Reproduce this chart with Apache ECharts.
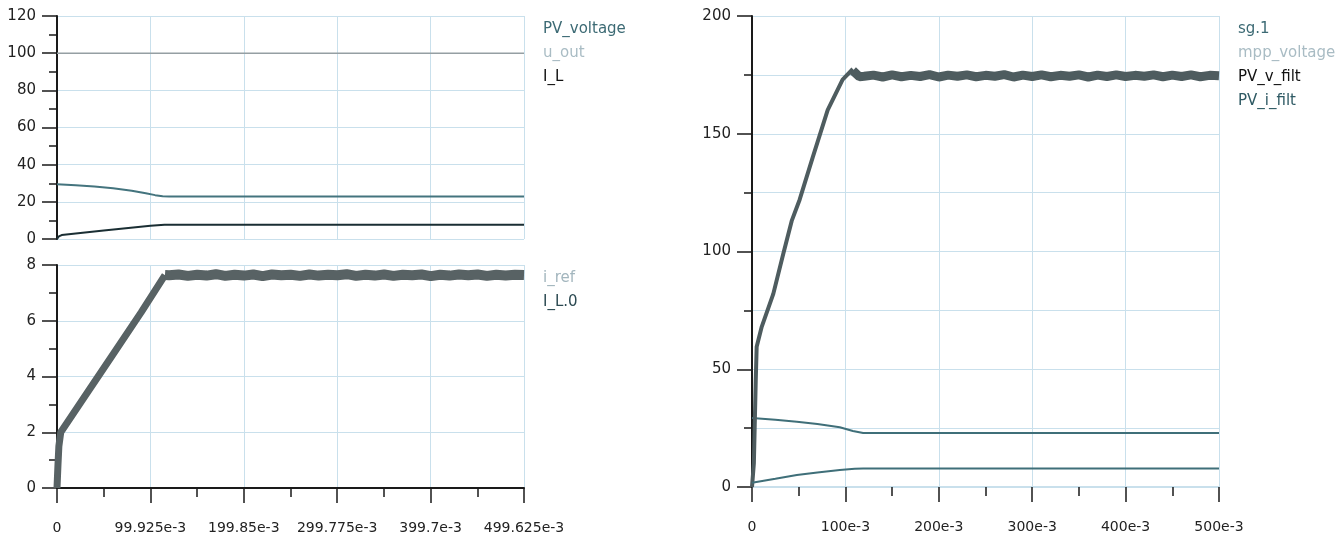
<!DOCTYPE html>
<html>
<head>
<meta charset="utf-8">
<script src="https://cdn.jsdelivr.net/npm/echarts@6/dist/echarts.min.js"></script>
<style>
  html, body { margin: 0; padding: 0; background: #fff; }
  #chart { width: 1338px; height: 540px; }
</style>
</head>
<body>
<div id="chart"></div>
<script>
// time axis (seconds)
const T_END_L = 0.499625
const T_END_R = 0.5
const tPlat = [0.12,0.13,0.14,0.15,0.16,0.17,0.18,0.19,0.2,0.21,0.22,0.23,0.24,0.25,0.26,0.27,0.28,0.29,0.3,
  0.31,0.32,0.33,0.34,0.35,0.36,0.37,0.38,0.39,0.4,0.41,0.42,0.43,0.44,0.45,0.46,0.47,0.48,0.49]

// left top: PV_voltage, u_out, I_L
const tPV = [0, 0.02, 0.04, 0.06, 0.08, 0.095, 0.105, 0.113, 0.12, T_END_L]
const vPV = [29.5, 28.9, 28.2, 27.3, 26.0, 24.6, 23.6, 23.0, 22.9, 22.9]
const tUout = [0, T_END_L]
const vUout = [100, 100]
const tIL = [0, 0.002, 0.005, 0.05, 0.1, 0.115, T_END_L]
const vIL = [0, 1.4, 2.1, 4.6, 7.1, 7.7, 7.7]

// left bottom: I_L.0 (ramp + ripple plateau)
const tIL0Ramp = [0, 0.001, 0.002, 0.004, 0.03, 0.06, 0.09, 0.1155]
const vIL0Ramp = [0, 0.8, 1.5, 2.0, 3.3, 4.8, 6.3, 7.64]
const vIL0Plat = [7.63,7.66,7.61,7.65,7.62,7.67,7.61,7.65,7.62,7.66,7.60,7.66,7.63,7.65,7.61,7.66,7.62,7.65,7.63,
  7.67,7.61,7.65,7.62,7.66,7.61,7.65,7.63,7.66,7.60,7.65,7.62,7.66,7.63,7.66,7.61,7.65,7.62,7.65]

// right: PV_v_filt (big curve), sg.1, PV_i_filt
const tBigRamp = [0, 0.002, 0.004, 0.005, 0.0104, 0.0228, 0.0335, 0.0425, 0.051, 0.065, 0.081, 0.097, 0.108]
const vBigRamp = [0, 10, 45, 59.6, 68, 82, 99, 113, 122, 140, 160, 173, 177.5]
const vBigPlat = [174.4,174.9,174.1,175.0,174.2,174.8,174.3,175.1,174.1,174.9,174.4,175.0,174.2,174.8,174.4,175.1,174.1,174.9,174.3,
  175.0,174.2,174.8,174.4,175.0,174.1,174.9,174.3,175.0,174.3,174.8,174.4,175.0,174.2,174.9,174.3,175.0,174.2,174.8]
const tSg = [0, 0.025, 0.048, 0.07, 0.094, 0.108, 0.119, T_END_R]
const vSg = [29.3, 28.6, 27.7, 26.8, 25.4, 23.8, 22.9, 22.9]
const tPi = [0, 0.025, 0.048, 0.07, 0.094, 0.11, 0.119, T_END_R]
const vPi = [1.8, 3.5, 5.1, 6.2, 7.2, 7.7, 7.9, 7.9]

const zip = (t, v) => t.map((x, i) => [x, v[i]])

const ilRamp = zip(tIL0Ramp, vIL0Ramp)
const ilPlat = [[0.1155, 7.64]].concat(zip(tPlat, vIL0Plat), [[T_END_L, 7.64]])
const bigRamp = zip(tBigRamp, vBigRamp)
const bigPlat = [[0.108, 176.8], [0.115, 174.2]].concat(zip(tPlat, vBigPlat), [[T_END_R, 174.6]])

const FONT = 'DejaVu Sans'
const gridColor = '#c9e0ec'
const axisColor = '#1a1a1a'

const fmtMilli = v => v === 0 ? '0' : parseFloat((v * 1000).toFixed(3)) + 'e-3'

const yAxisBase = (min, max, interval, minorGrid) => ({
  type: 'value', min, max, interval,
  axisLine: { show: true, lineStyle: { color: axisColor, width: 2 } },
  axisTick: { show: true, length: 15, lineStyle: { color: axisColor, width: 1.5 } },
  minorTick: { show: true, splitNumber: 2, length: 8, lineStyle: { color: axisColor, width: 1.5 } },
  axisLabel: { color: '#222', fontFamily: FONT, fontSize: 15, margin: 21 },
  splitLine: { show: true, lineStyle: { color: gridColor, width: 1 } },
  minorSplitLine: { show: minorGrid, lineStyle: { color: gridColor, width: 1 } }
})

const xAxisBase = (gridIndex, max, interval, showAxis, lineColor) => ({
  type: 'value', gridIndex, min: 0, max, interval,
  axisLine: { show: showAxis, onZero: false, lineStyle: { color: lineColor, width: 2 } },
  axisTick: { show: showAxis, length: 15, lineStyle: { color: axisColor, width: 1.5 } },
  minorTick: { show: showAxis, splitNumber: 2, length: 9, lineStyle: { color: axisColor, width: 1.5 } },
  axisLabel: { show: showAxis, color: '#222', fontFamily: FONT, fontSize: 14, margin: 33,
    formatter: fmtMilli, showMinLabel: true, showMaxLabel: true },
  splitLine: { show: true, lineStyle: { color: gridColor, width: 1 } }
})

const legendBase = (left, top, items) => ({
  orient: 'vertical', left, top, itemWidth: 0, itemHeight: 14, itemGap: 9, icon: 'none',
  selectedMode: false,
  textStyle: { fontFamily: FONT, fontSize: 15 },
  data: items.map(([name, color]) => ({ name, textStyle: { color } }))
})

const line = (name, xi, yi, data, color, width) => ({
  name, type: 'line', xAxisIndex: xi, yAxisIndex: yi, data,
  showSymbol: false, symbol: 'none', smooth: false,
  lineStyle: { color, width }, itemStyle: { color }
})

const chart = echarts.init(document.getElementById('chart'))

const option = {
  animation: false,
  backgroundColor: '#fff',
  grid: [
    { left: 57, top: 16, width: 467, height: 223 },
    { left: 57, top: 265, width: 467, height: 223 },
    { left: 752, top: 16, width: 467, height: 471 }
  ],
  xAxis: [
    xAxisBase(0, T_END_L, 0.099925, false, axisColor),
    xAxisBase(1, T_END_L, 0.099925, true, axisColor),
    xAxisBase(2, T_END_R, 0.1, true, gridColor)
  ],
  yAxis: [
    Object.assign(yAxisBase(0, 120, 20, false), { gridIndex: 0 }),
    Object.assign(yAxisBase(0, 8, 2, false), { gridIndex: 1 }),
    Object.assign(yAxisBase(0, 200, 50, true), { gridIndex: 2 })
  ],
  legend: [
    legendBase(533, 17, [['PV_voltage', '#3c6a74'], ['u_out', '#a9bcc4'], ['I_L', '#111']]),
    legendBase(533, 266, [['i_ref', '#a3b6be'], ['I_L.0', '#2c4a52']]),
    legendBase(1228, 17, [['sg.1', '#3c6a74'], ['mpp_voltage', '#a9bcc4'], ['PV_v_filt', '#111'], ['PV_i_filt', '#2f5a64']])
  ],
  series: [
    line('u_out', 0, 0, zip(tUout, vUout), '#959fa3', 1.5),
    line('PV_voltage', 0, 0, zip(tPV, vPV), '#44747e', 2),
    line('I_L', 0, 0, zip(tIL, vIL), '#1a2e33', 2),
    line('i_ref', 1, 1, [], '#a3b6be', 1.5),
    line('I_L.0', 1, 1, ilRamp, '#586264', 7),
    line('I_L.0', 1, 1, ilPlat, '#586264', 10),
    line('sg.1', 2, 2, zip(tSg, vSg), '#3f6f79', 2),
    line('mpp_voltage', 2, 2, [], '#a9bcc4', 1.5),
    line('PV_v_filt', 2, 2, bigRamp, '#4e5c5f', 4),
    line('PV_v_filt', 2, 2, bigPlat, '#4e5c5f', 9),
    line('PV_i_filt', 2, 2, zip(tPi, vPi), '#3f6f79', 2)
  ]
}

chart.setOption(option)
</script>
</body>
</html>
